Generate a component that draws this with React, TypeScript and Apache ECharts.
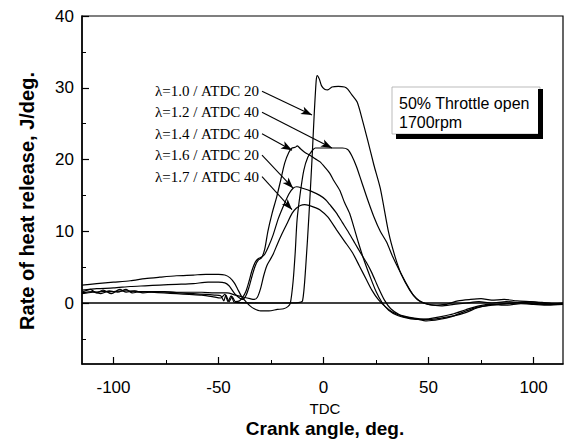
import React, { useEffect, useRef } from "react";
import * as echarts from "echarts";

// ---- axis ticks ----
const xTicksMajor = [-100, -50, 0, 50, 100];
const xTicksMinor = [-75, -25, 25, 75];
const yTicksMajor = [0, 10, 20, 30, 40];
const yTicksMinor = [-5, 5, 15, 25, 35];

// ---- series (crank angle, rate of heat release) ----
const lam10: [number, number][] = [
  [-115, 1.4], [-110, 1.6], [-106, 1.3], [-102, 1.7], [-98, 1.5], [-94, 1.9], [-91, 1.4], [-87, 1.6],
  [-82, 1.5], [-76, 1.4], [-70, 1.3], [-64, 1.2], [-58, 1.1], [-53, 0.9], [-49, 0.7], [-47, 1.2],
  [-45.5, 0.2], [-44, 1.0], [-42.5, 0.1], [-40, 0.05], [-30, 0], [-20, 0], [-12, 0.05], [-10, 0.3],
  [-8.5, 5], [-7, 12], [-5.5, 20], [-4.5, 26], [-3.5, 31], [-3, 31.7], [-2, 31.2], [-1, 30.3],
  [0.5, 29.8], [2, 29.7], [4, 30.1], [7, 30.2], [10, 30.1], [11.5, 29.8], [13.5, 29], [16, 28],
  [18.5, 25.5], [21, 22.7], [24, 19.2], [27, 16], [31, 9.8], [34, 6.5], [37, 4], [41, 1.8],
  [44, 0.7], [47, 0.1], [52, -0.3], [58, -0.2], [64, 0.3], [70, 0.5], [75, 0.6], [80, 0.4],
  [86, 0.5], [92, 0.3], [98, 0.2], [104, 0.1], [110, -0.1], [114, 0],
];
const lam12: [number, number][] = [
  [-115, 2.5], [-108, 2.7], [-100, 2.9], [-92, 3.1], [-85, 3.4], [-78, 3.6], [-70, 3.8], [-62, 3.9],
  [-56, 4.0], [-50, 4.0], [-47, 3.9], [-44.5, 3.5], [-42.5, 2.8], [-41, 2.0], [-39, 0.9], [-37, 0.2],
  [-35, -0.4], [-33, -0.8], [-30, -1.1], [-26, -1.1], [-22, -0.9], [-19, -0.8], [-17, -0.5], [-15.8, 0],
  [-14.5, 3], [-13.5, 7], [-12.6, 11.6], [-11, 15.5], [-9.4, 18.5], [-7.5, 20.3], [-5.5, 21.2], [-4, 21.6],
  [-2, 21.6], [2, 21.6], [6, 21.6], [9, 21.6], [11.5, 21.4], [13.5, 20.5], [15.7, 19], [18, 17],
  [21, 14.4], [24, 12], [27, 10], [30, 8.5], [33, 6.4], [36, 4.6], [40, 2.4], [43, 1], [46, 0.2],
  [50, -0.2], [56, -0.4], [62, -0.2], [68, 0], [74, 0.2], [80, 0], [87, 0.2], [94, 0], [100, -0.1],
  [107, -0.2], [114, -0.2],
];
const lam14: [number, number][] = [
  [-115, 1.8], [-108, 2.0], [-100, 2.1], [-92, 2.3], [-85, 2.4], [-78, 2.5], [-70, 2.6], [-62, 2.7],
  [-55, 2.9], [-50, 2.9], [-47, 2.8], [-45, 2.4], [-43.5, 1.8], [-42, 1.2], [-40, 0.7], [-38.5, 0.5],
  [-37, 1.0], [-35.5, 2.2], [-34, 3.8], [-32.5, 5.2], [-31, 6.0], [-29.5, 6.3], [-28, 7.5], [-26.5, 10],
  [-24.5, 12.5], [-22.3, 14.8], [-20.5, 17], [-18.5, 19.5], [-16.5, 21], [-15, 21.6], [-13.5, 21.7],
  [-12.5, 21.9], [-11, 21.5], [-9, 21], [-6.5, 20.6], [-4, 20.1], [-1.8, 19.7], [1, 18.8], [2.9, 18.1],
  [5, 17], [7.7, 15.7], [10, 14], [12.4, 12.5], [14.5, 10.5], [16.5, 8.5], [19, 6.2], [22, 3.8],
  [25, 1.6], [28, 0], [31, -1], [35, -1.7], [40, -2.1], [45, -2.3], [50, -2.2], [56, -1.9], [62, -1.5],
  [68, -0.9], [74, -0.4], [80, -0.2], [87, -0.3], [94, -0.1], [100, -0.2], [107, -0.3], [114, -0.2],
];
const lam16: [number, number][] = [
  [-115, 1.5], [-111, 1.9], [-108, 1.4], [-105, 1.8], [-101, 1.3], [-97, 1.9], [-94, 1.5], [-90, 1.7],
  [-86, 1.4], [-80, 1.6], [-74, 1.5], [-68, 1.4], [-62, 1.3], [-56, 1.2], [-52, 1.1], [-49, 1.0],
  [-47.5, 0.3], [-46.5, 1.1], [-45, 0.2], [-43.5, 0.9], [-42, 0.2], [-40, 0.3], [-38.5, 0.8], [-37, 1.6],
  [-35.5, 3], [-34, 4.6], [-32.5, 5.7], [-31, 6.2], [-29.5, 6.4], [-28, 6.8], [-26, 8], [-24, 9.5],
  [-21.5, 11.8], [-19, 13.6], [-16.5, 15.2], [-14.5, 16], [-12.8, 16.2], [-10, 16], [-6, 15.6],
  [-1.8, 15], [1, 14.4], [3, 13.7], [6, 12.6], [9, 11.2], [12, 9.8], [15, 8.3], [18, 6.8], [20.5, 5.6],
  [23, 4.2], [26, 2.2], [29, 0.4], [32, -0.8], [36, -1.6], [41, -2], [46, -2.2], [51, -2.3], [56, -2.1],
  [62, -1.8], [68, -1.3], [73, -0.7], [79, -0.3], [85, -0.1], [92, 0], [98, 0.2], [104, 0], [110, -0.2],
  [114, -0.1],
];
const lam17: [number, number][] = [
  [-115, 1.3], [-110, 1.5], [-105, 1.6], [-100, 1.6], [-94, 1.7], [-88, 1.6], [-82, 1.6], [-76, 1.6],
  [-70, 1.5], [-64, 1.5], [-58, 1.5], [-52, 1.4], [-46, 1.4], [-42, 1.1], [-38, 0.8], [-35, 0.6],
  [-33, 0.5], [-31.5, 0.8], [-30, 2], [-28.5, 3.8], [-27, 5.2], [-25.5, 6], [-24, 6.8], [-22, 8.2],
  [-20, 9.5], [-17.5, 11], [-15, 12.5], [-13, 13.2], [-11, 13.6], [-9, 13.7], [-7, 13.6], [-4, 13.3],
  [-1.8, 13], [2, 12], [6.2, 10.2], [10, 8.6], [13.8, 7], [17, 5.2], [20.5, 3.2], [23, 1.8], [26, 0.5],
  [29, -0.4], [33, -1.3], [38, -1.9], [44, -2.2], [49, -2.5], [55, -2.3], [61, -1.9], [67, -1.2],
  [73, -0.6], [80, -0.3], [87, -0.1], [94, 0.1], [100, 0], [107, -0.2], [114, -0.1],
];

const seriesNames = [
  "λ=1.0 / ATDC 20",
  "λ=1.2 / ATDC 40",
  "λ=1.4 / ATDC 40",
  "λ=1.6 / ATDC 20",
  "λ=1.7 / ATDC 40",
];
const seriesData = [lam10, lam12, lam14, lam16, lam17];

// label anchors (arrow tails) and arrow heads, in data coordinates
const arrowTails: [number, number][] = [
  [-29.3, 29.5], [-29.3, 26.6], [-29.3, 23.6], [-29.3, 20.6], [-29.3, 17.6],
];
const arrowHeads: [number, number][] = [
  [-5.5, 26.2], [4.0, 21.6], [-15.0, 21.3], [-14.5, 16.0], [-15.0, 13.0],
];

const sans = '"Liberation Sans", Arial, Helvetica, sans-serif';
const serif = '"Liberation Serif", "Times New Roman", serif';

export default function App() {
  const ref = useRef<HTMLDivElement>(null);
  useEffect(() => {
    document.body.style.margin = "0";
    const chart = echarts.init(ref.current!, undefined, { renderer: "svg" });
    const black = "#000";
    const series: any[] = seriesData.map((d, i) => ({
      name: seriesNames[i],
      type: "line",
      data: d,
      xAxisIndex: 0,
      yAxisIndex: 0,
      symbol: "none",
      smooth: 0.25,
      lineStyle: { color: black, width: 1.2 },
      z: 3,
    }));
    // zero line
    series[0].markLine = {
      silent: true,
      symbol: "none",
      label: { show: false },
      lineStyle: { color: black, width: 1.6, type: "solid" },
      data: [{ yAxis: 0 }],
    };
    // annotation arrows and labels
    series.push({
      type: "line",
      data: [],
      xAxisIndex: 0,
      yAxisIndex: 0,
      symbol: "none",
      markLine: {
        silent: true,
        symbol: ["none", "arrow"],
        symbolSize: [6, 11],
        label: { show: false },
        itemStyle: { color: black },
        lineStyle: { color: black, width: 1.1, type: "solid" },
        data: arrowTails.map((t, i) => [{ coord: t }, { coord: arrowHeads[i] }]),
      },
      markPoint: {
        silent: true,
        symbol: "circle",
        symbolSize: 0,
        label: {
          show: true,
          position: "left",
          distance: 3,
          formatter: "{b}",
          color: black,
          fontFamily: serif,
          fontSize: 15,
        },
        data: arrowTails.map((t, i) => ({ name: seriesNames[i], coord: t })),
      },
    });

    chart.setOption({
      animation: false,
      backgroundColor: "#fff",
      grid: {
        left: 82,
        right: 3,
        top: 16,
        bottom: 77,
        show: true,
        borderColor: black,
        borderWidth: 1.2,
        containLabel: false,
        outerBoundsMode: "none",
      },
      xAxis: [
        {
          type: "value",
          min: -115,
          max: 114,
          position: "bottom",
          axisLine: { show: true, onZero: false, lineStyle: { color: black, width: 1.5 } },
          axisTick: { show: true, inside: true, length: 7, customValues: xTicksMajor, lineStyle: { color: black, width: 1.2 } },
          axisLabel: { show: true, customValues: xTicksMajor, color: black, fontSize: 17, fontFamily: sans, margin: 15 },
          splitLine: { show: false },
        },
        {
          type: "value",
          min: -115,
          max: 114,
          position: "bottom",
          axisLine: { show: false, onZero: false },
          axisTick: { show: true, inside: true, length: 4, customValues: xTicksMinor, lineStyle: { color: black, width: 1 } },
          axisLabel: { show: false },
          splitLine: { show: false },
        },
      ],
      yAxis: [
        {
          type: "value",
          min: -8.5,
          max: 40,
          position: "left",
          axisLine: { show: true, onZero: false, lineStyle: { color: black, width: 1.5 } },
          axisTick: { show: true, inside: true, length: 7, customValues: yTicksMajor, lineStyle: { color: black, width: 1.2 } },
          axisLabel: { show: true, customValues: yTicksMajor, color: black, fontSize: 17, fontFamily: sans, margin: 8 },
          splitLine: { show: false },
        },
        {
          type: "value",
          min: -8.5,
          max: 40,
          position: "left",
          axisLine: { show: false, onZero: false },
          axisTick: { show: true, inside: true, length: 4, customValues: yTicksMinor, lineStyle: { color: black, width: 1 } },
          axisLabel: { show: false },
          splitLine: { show: false },
        },
      ],
      series,
      graphic: [
        {
          type: "text",
          x: 27,
          y: 201,
          rotation: Math.PI / 2,
          style: {
            text: "Rate of heat release, J/deg.",
            font: `bold 20px ${sans}`,
            fill: black,
            align: "center",
            verticalAlign: "middle",
            textAlign: "center",
            textVerticalAlign: "middle",
          },
        },
        {
          type: "text",
          x: 325,
          y: 408,
          style: {
            text: "TDC",
            font: `15px ${sans}`,
            fill: black,
            align: "center",
            verticalAlign: "middle",
            textAlign: "center",
            textVerticalAlign: "middle",
          },
        },
        {
          type: "text",
          x: 325,
          y: 428,
          style: {
            text: "Crank angle, deg.",
            font: `bold 19px ${sans}`,
            fill: black,
            align: "center",
            verticalAlign: "middle",
            textAlign: "center",
            textVerticalAlign: "middle",
          },
        },
        {
          type: "rect",
          z: 10,
          shape: { x: 392, y: 87, width: 148, height: 47 },
          style: { fill: "#fff", stroke: "#aaa", lineWidth: 0.8 },
        },
        { type: "rect", z: 11, shape: { x: 538, y: 89, width: 5, height: 50 }, style: { fill: black } },
        { type: "rect", z: 11, shape: { x: 396, y: 134, width: 147, height: 5 }, style: { fill: black } },
        {
          type: "text",
          z: 12,
          x: 399,
          y: 103,
          style: {
            text: "50% Throttle open",
            font: `16px ${sans}`,
            fill: black,
            align: "left",
            verticalAlign: "middle",
            textAlign: "left",
            textVerticalAlign: "middle",
          },
        },
        {
          type: "text",
          z: 12,
          x: 399,
          y: 122,
          style: {
            text: "1700rpm",
            font: `16px ${sans}`,
            fill: black,
            align: "left",
            verticalAlign: "middle",
            textAlign: "left",
            textVerticalAlign: "middle",
          },
        },
      ],
    });
    return () => chart.dispose();
  }, []);
  return (
    <div
      ref={ref}
      style={{ position: "fixed", left: 0, top: 0, width: 566, height: 441, background: "#fff" }}
    />
  );
}
